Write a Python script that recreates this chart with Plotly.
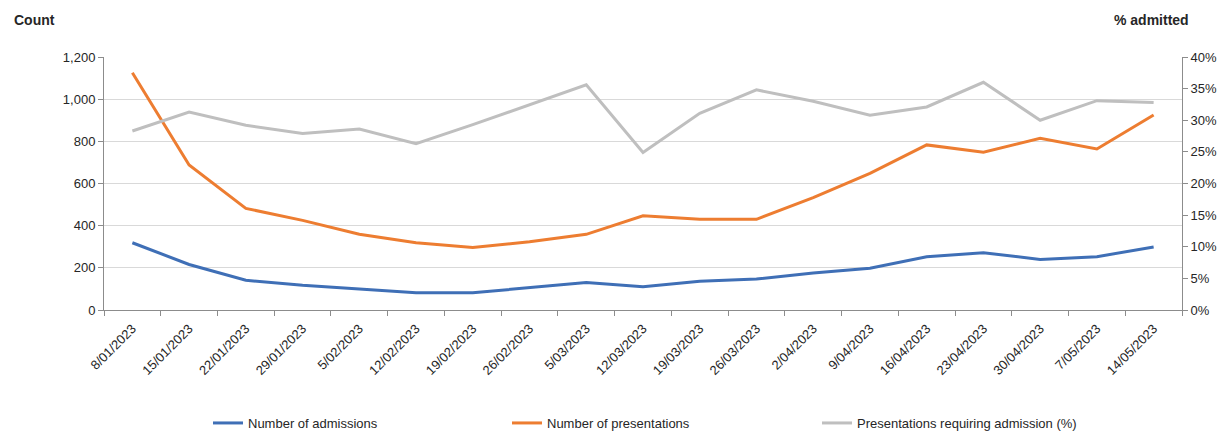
import plotly.graph_objects as go

# Weekly emergency department data
weeks = ["8/01/2023", "15/01/2023", "22/01/2023", "29/01/2023", "5/02/2023",
         "12/02/2023", "19/02/2023", "26/02/2023", "5/03/2023", "12/03/2023",
         "19/03/2023", "26/03/2023", "2/04/2023", "9/04/2023", "16/04/2023",
         "23/04/2023", "30/04/2023", "7/05/2023", "14/05/2023"]
admissions = [319, 216, 141, 117, 100, 82, 82, 105, 130, 110,
              136, 147, 176, 198, 253, 272, 240, 253, 299]
presentations = [1125, 688, 482, 425, 359, 319, 296, 324, 359, 447,
                 430, 430, 533, 648, 783, 748, 814, 764, 925]
pct_admitted = [28.3, 31.3, 29.2, 27.9, 28.6, 26.3, 29.3, 32.4, 35.6, 24.9,
                31.1, 34.8, 33.0, 30.8, 32.1, 36.0, 30.0, 33.1, 32.8]
count_ticks = [0, 200, 400, 600, 800, 1000, 1200]
pct_ticks = [0, 5, 10, 15, 20, 25, 30, 35, 40]
pct_labels = [f"{v}%" for v in pct_ticks]

W, H = 1225, 432
ML, MR, MT, MB = 104, 43, 57, 122
PW, PH = W - ML - MR, H - MT - MB

FONT = "Liberation Sans, Arial, sans-serif"
AXIS_COL = "#8c8c8c"
GRID_COL = "#d9d9d9"
TXT = "#262626"


def px_x(x):
    return (x - ML) / PW


def px_y(y):
    return (H - MB - y) / PH


fig = go.Figure()
fig.add_trace(go.Scatter(x=weeks, y=admissions, name="Number of admissions",
                         mode="lines", line=dict(color="#3f6fb6", width=3),
                         legend="legend"))
fig.add_trace(go.Scatter(x=weeks, y=presentations, name="Number of presentations",
                         mode="lines", line=dict(color="#ed7d31", width=3),
                         legend="legend2"))
fig.add_trace(go.Scatter(x=weeks, y=pct_admitted, name="Presentations requiring admission (%)",
                         mode="lines", line=dict(color="#bfbfbf", width=3),
                         yaxis="y2", legend="legend3"))

leg_common = dict(orientation="h", yanchor="middle", xanchor="left",
                  font=dict(family=FONT, size=13, color=TXT),
                  bgcolor="rgba(0,0,0,0)", itemwidth=30, tracegroupgap=0)
fig.update_layout(
    width=W, height=H,
    margin=dict(l=ML, r=MR, t=MT, b=MB, autoexpand=False),
    paper_bgcolor="white", plot_bgcolor="white",
    font=dict(family=FONT, size=13, color=TXT),
    showlegend=True,
    legend=dict(x=px_x(208), y=px_y(423), **leg_common),
    legend2=dict(x=px_x(507), y=px_y(423), **leg_common),
    legend3=dict(x=px_x(817), y=px_y(423), **leg_common),
    xaxis=dict(type="category", range=[-0.5, len(weeks) - 0.5],
               tickangle=-45, tickson="boundaries", ticks="outside",
               ticklen=5, tickcolor=AXIS_COL, showline=True, linecolor=AXIS_COL,
               linewidth=1, showgrid=False, automargin=False,
               ticklabelstandoff=5,
               tickfont=dict(family=FONT, size=13, color=TXT)),
    yaxis=dict(range=[0, 1200], tickvals=count_ticks, tickformat=",",
               showgrid=True, gridcolor=GRID_COL, gridwidth=1,
               showline=True, linecolor=AXIS_COL, ticks="outside", ticklen=5,
               tickcolor=AXIS_COL, zeroline=False, automargin=False,
               tickfont=dict(family=FONT, size=13, color=TXT)),
    yaxis2=dict(range=[0, 40], tickvals=pct_ticks, ticktext=pct_labels,
                overlaying="y", side="right", showgrid=False,
                showline=True, linecolor=AXIS_COL, ticks="outside", ticklen=5,
                tickcolor=AXIS_COL, zeroline=False, automargin=False,
                tickfont=dict(family=FONT, size=13, color=TXT)),
    annotations=[
        dict(text="<b>Count</b>", xref="paper", yref="paper",
             x=px_x(12), y=px_y(20), xanchor="left", yanchor="middle",
             showarrow=False, font=dict(family=FONT, size=14, color=TXT)),
        dict(text="<b>% admitted</b>", xref="paper", yref="paper",
             x=px_x(1191), y=px_y(20), xanchor="right", yanchor="middle",
             showarrow=False, font=dict(family=FONT, size=14, color=TXT)),
    ],
)

fig.write_html("out.html")
